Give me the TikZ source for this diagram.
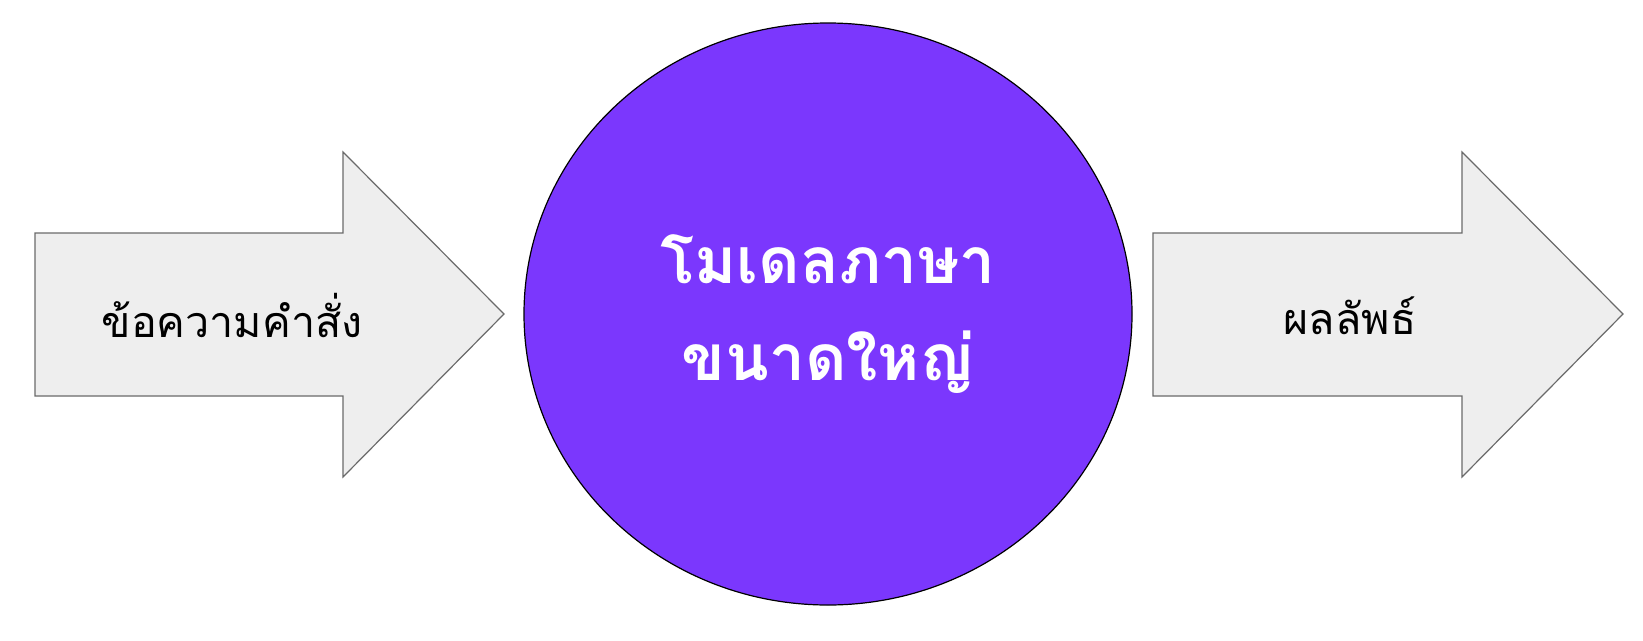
\documentclass[tikz,border=0pt]{standalone}
\usepackage{fontspec}
\newfontfamily\thaifont[Script=Thai]{Loma}
\definecolor{arrowfill}{HTML}{EEEEEE}
\definecolor{arrowline}{HTML}{6A6A6A}
\definecolor{modelfill}{HTML}{7B37FD}
\usetikzlibrary{positioning, shapes.geometric}

\begin{document}
\begin{tikzpicture}[x=1pt,y=-1pt]

  \tikzstyle{bigarrow} = [%
  draw=arrowline,
  fill=arrowfill,
  line width=1.2pt,
  ];
  \tikzstyle{arrowlabel} = [%
  font=\thaifont\fontsize{43}{50}\selectfont,
  text=black,
  ];
  \tikzstyle{model} = [%
  align=center,
  draw=black,
  ellipse,
  fill=modelfill,
  font=\thaifont\bfseries\fontsize{64}{97}\selectfont,
  line width=1.2pt,
  minimum height=582pt,
  minimum width=608pt,
  text=white,
  ];

  \useasboundingbox (0,0) rectangle (1643,640);
  \fill[white] (0,0) rectangle (1643,640);

  % input arrow
  \draw[bigarrow] (35,233) -- (343,233) -- (343,152) -- (504,314)
    -- (343,477) -- (343,396) -- (35,396) -- cycle;
  \node[arrowlabel] (prompt) at (232,316) {ข้อความคำสั่ง};

  % model
  \node[model] (llm) at (828,314) {โมเดลภาษา\\ขนาดใหญ่};

  % output arrow
  \draw[bigarrow] (1153,233) -- (1462,233) -- (1462,152) -- (1623,314)
    -- (1462,477) -- (1462,396) -- (1153,396) -- cycle;
  \node[arrowlabel] (result) at (1350,316) {ผลลัพธ์};

\end{tikzpicture}
\end{document}
